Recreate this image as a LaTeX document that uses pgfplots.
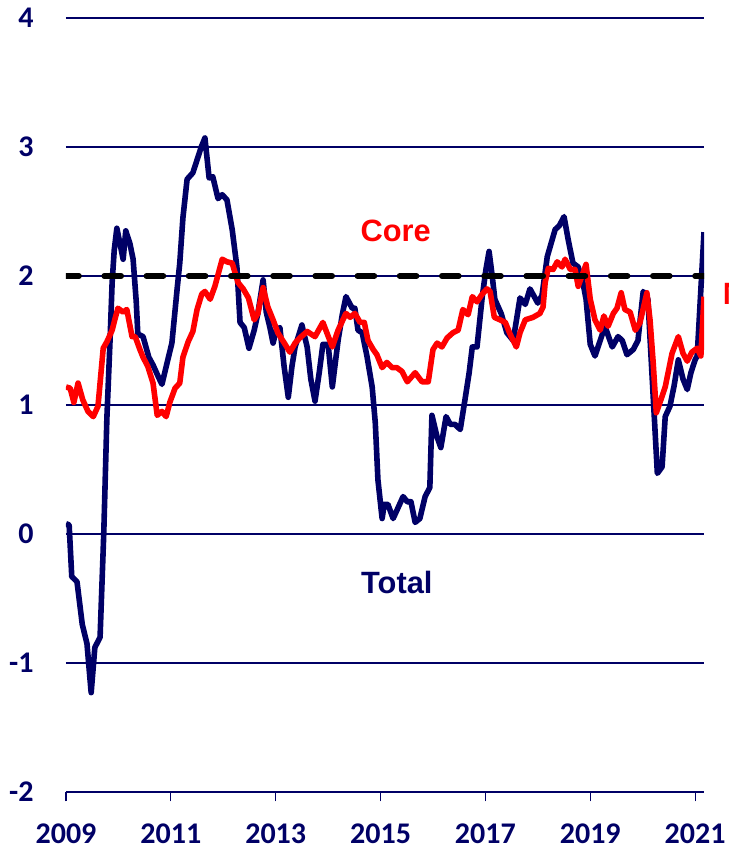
\documentclass[border=0pt]{standalone}
\usepackage{fontspec}
\setmainfont{Carlito}
\newfontfamily\arial{Liberation Sans}
\usepackage{pgfplots}
\pgfplotsset{compat=1.18}
\usetikzlibrary{calc}
\definecolor{navy}{RGB}{0,0,102}
\definecolor{corered}{RGB}{255,0,0}

\begin{document}
\begin{tikzpicture}
\begin{axis}[
    scale only axis,
    width=319pt, height=387pt,
    xmin=2009, xmax=2021.17,
    ymin=-2, ymax=4,
    axis line style={draw=none},
    xtick={2009,2011,2013,2015,2017,2019,2021},
    xticklabels={2009,2011,2013,2015,2017,2019,2021},
    ytick={-2,-1,0,1,2,3,4},
    yticklabels={-2,-1,0,1,2,3,4},
    ymajorgrids,
    grid style={navy, line width=0.6pt},
    tick align=outside,
    xtick pos=bottom, ytick pos=left,
    major tick length=4.7pt,
    xtick style={navy, line width=0.6pt},
    ytick style={draw=none},
    tick label style={font=\bfseries\fontsize{15}{18}\selectfont, text=navy, inner sep=0pt},
    xticklabel style={anchor=north, yshift=-10.8pt},
    yticklabel style={anchor=east, xshift=-11.3pt},
]

% Total
\addplot[navy, line width=2.8pt, line join=round] coordinates {
(2009.00,0.08) (2009.06,0.07) (2009.11,-0.33) (2009.21,-0.37) (2009.31,-0.70)
(2009.40,-0.85) (2009.48,-1.23) (2009.55,-0.88) (2009.65,-0.80) (2009.72,0.00)
(2009.78,0.90) (2009.84,1.50) (2009.88,1.95) (2009.92,2.20) (2009.97,2.37)
(2010.03,2.25) (2010.09,2.13) (2010.14,2.35) (2010.22,2.25) (2010.28,2.13)
(2010.34,1.80) (2010.37,1.55) (2010.47,1.53) (2010.58,1.37) (2010.66,1.31)
(2010.76,1.22) (2010.83,1.16) (2010.93,1.33) (2011.02,1.48) (2011.12,1.90)
(2011.17,2.10) (2011.23,2.45) (2011.31,2.75) (2011.42,2.80) (2011.50,2.90)
(2011.58,3.00) (2011.65,3.07) (2011.73,2.76) (2011.80,2.77) (2011.90,2.60)
(2011.98,2.63) (2012.07,2.59) (2012.17,2.36) (2012.26,2.07) (2012.32,1.64)
(2012.40,1.60) (2012.49,1.44) (2012.59,1.58) (2012.66,1.71) (2012.76,1.97)
(2012.82,1.72) (2012.89,1.60) (2012.95,1.48) (2013.01,1.58) (2013.08,1.60)
(2013.16,1.30) (2013.24,1.06) (2013.31,1.30) (2013.37,1.45) (2013.50,1.62)
(2013.60,1.45) (2013.67,1.20) (2013.75,1.03) (2013.83,1.25) (2013.90,1.47)
(2014.00,1.47) (2014.08,1.14) (2014.19,1.50) (2014.27,1.70) (2014.34,1.84)
(2014.46,1.75) (2014.51,1.75) (2014.57,1.58) (2014.65,1.56) (2014.74,1.38)
(2014.84,1.14) (2014.90,0.86) (2014.95,0.42) (2015.03,0.12) (2015.07,0.23)
(2015.14,0.23) (2015.24,0.12) (2015.33,0.20) (2015.43,0.29) (2015.51,0.25)
(2015.58,0.25) (2015.66,0.09) (2015.75,0.12) (2015.85,0.29) (2015.94,0.36)
(2015.98,0.92) (2016.08,0.75) (2016.15,0.67) (2016.25,0.91) (2016.33,0.85)
(2016.42,0.85) (2016.52,0.81) (2016.61,1.04) (2016.69,1.25) (2016.75,1.45)
(2016.84,1.45) (2016.94,1.84) (2017.01,2.05) (2017.07,2.19) (2017.13,2.00)
(2017.18,1.82) (2017.30,1.71) (2017.41,1.56) (2017.53,1.50) (2017.66,1.83)
(2017.76,1.78) (2017.85,1.90) (2018.00,1.79) (2018.08,1.85) (2018.18,2.15)
(2018.33,2.36) (2018.41,2.39) (2018.50,2.46) (2018.58,2.28) (2018.67,2.10)
(2018.77,2.07) (2018.86,1.95) (2018.92,1.82) (2019.00,1.47) (2019.09,1.38)
(2019.19,1.50) (2019.28,1.61) (2019.42,1.45) (2019.53,1.53) (2019.61,1.50)
(2019.70,1.39) (2019.82,1.43) (2019.91,1.50) (2020.01,1.88) (2020.10,1.82)
(2020.20,1.07) (2020.28,0.47) (2020.37,0.52) (2020.43,0.91) (2020.52,0.99)
(2020.60,1.15) (2020.68,1.35) (2020.77,1.20) (2020.85,1.12) (2020.92,1.25)
(2021.00,1.35) (2021.04,1.38) (2021.17,2.34)
};

% Core
\addplot[corered, line width=2.8pt, line join=round] coordinates {
(2009.00,1.14) (2009.08,1.13) (2009.15,1.02) (2009.23,1.17) (2009.32,1.04)
(2009.42,0.95) (2009.52,0.91) (2009.61,0.99) (2009.71,1.44) (2009.78,1.49)
(2009.88,1.58) (2009.93,1.66) (2009.99,1.75) (2010.09,1.72) (2010.16,1.74)
(2010.26,1.53) (2010.32,1.53) (2010.41,1.43) (2010.47,1.37) (2010.56,1.30)
(2010.66,1.17) (2010.74,0.92) (2010.83,0.95) (2010.91,0.91) (2010.98,1.02)
(2011.08,1.13) (2011.17,1.17) (2011.23,1.37) (2011.33,1.49) (2011.42,1.57)
(2011.50,1.74) (2011.59,1.86) (2011.65,1.88) (2011.75,1.82) (2011.84,1.92)
(2011.98,2.13) (2012.07,2.11) (2012.17,2.10) (2012.28,1.95) (2012.38,1.90)
(2012.48,1.83) (2012.59,1.66) (2012.66,1.71) (2012.76,1.91) (2012.85,1.76)
(2012.95,1.66) (2013.04,1.56) (2013.18,1.47) (2013.27,1.41) (2013.37,1.48)
(2013.46,1.52) (2013.60,1.57) (2013.75,1.53) (2013.90,1.64) (2014.08,1.45)
(2014.19,1.58) (2014.34,1.71) (2014.42,1.68) (2014.51,1.71) (2014.61,1.64)
(2014.69,1.64) (2014.76,1.50) (2014.86,1.43) (2014.93,1.39) (2015.03,1.29)
(2015.12,1.33) (2015.22,1.29) (2015.31,1.29) (2015.41,1.26) (2015.51,1.18)
(2015.66,1.25) (2015.79,1.18) (2015.91,1.18) (2016.00,1.43) (2016.08,1.48)
(2016.17,1.45) (2016.27,1.52) (2016.38,1.56) (2016.48,1.58) (2016.57,1.74)
(2016.67,1.70) (2016.75,1.84) (2016.84,1.80) (2016.94,1.86) (2017.03,1.90)
(2017.09,1.88) (2017.17,1.68) (2017.28,1.66) (2017.38,1.64) (2017.47,1.55)
(2017.59,1.45) (2017.66,1.56) (2017.76,1.66) (2017.91,1.68) (2018.04,1.71)
(2018.10,1.76) (2018.14,1.95) (2018.20,2.06) (2018.29,2.05) (2018.37,2.11)
(2018.46,2.07) (2018.52,2.13) (2018.62,2.05) (2018.71,2.05) (2018.77,1.92)
(2018.84,2.00) (2018.92,2.09) (2019.00,1.82) (2019.09,1.66) (2019.19,1.58)
(2019.26,1.69) (2019.34,1.61) (2019.44,1.71) (2019.51,1.75) (2019.59,1.87)
(2019.66,1.74) (2019.76,1.72) (2019.86,1.58) (2019.95,1.64) (2020.08,1.87)
(2020.14,1.66) (2020.20,1.33) (2020.26,0.94) (2020.33,1.02) (2020.43,1.14)
(2020.56,1.40) (2020.68,1.53) (2020.77,1.40) (2020.85,1.34) (2020.94,1.41)
(2021.04,1.44) (2021.11,1.38) (2021.17,1.84)
};

% 2 per cent target
\addplot[black, line width=2.8pt, line cap=round, dash pattern=on 8.5pt off 12.6pt, dash phase=2pt] coordinates {
(2009,2) (2021.17,2)
};

\node[anchor=base, inner sep=0pt, text=corered, font=\arial\bfseries\fontsize{15.4}{18}\selectfont] at (axis cs:2015.29,2.267) {Core};
\node[anchor=base, inner sep=0pt, text=navy, font=\arial\bfseries\fontsize{15.4}{18}\selectfont] at (axis cs:2015.31,-0.458) {Total};

\coordinate (mpos) at (axis cs:2021.52,1.778);
\coordinate (bl) at (rel axis cs:0,0);
\coordinate (tr) at (rel axis cs:1,1);
\end{axis}
\node[anchor=base west, inner sep=0pt, text=corered, font=\arial\bfseries\fontsize{15.4}{18}\selectfont] at (mpos) {M};
\pgfresetboundingbox
\path[use as bounding box] ($(bl)+(-33pt,-28pt)$) rectangle ($(tr)+(12pt,9pt)$);
\end{tikzpicture}
\end{document}
